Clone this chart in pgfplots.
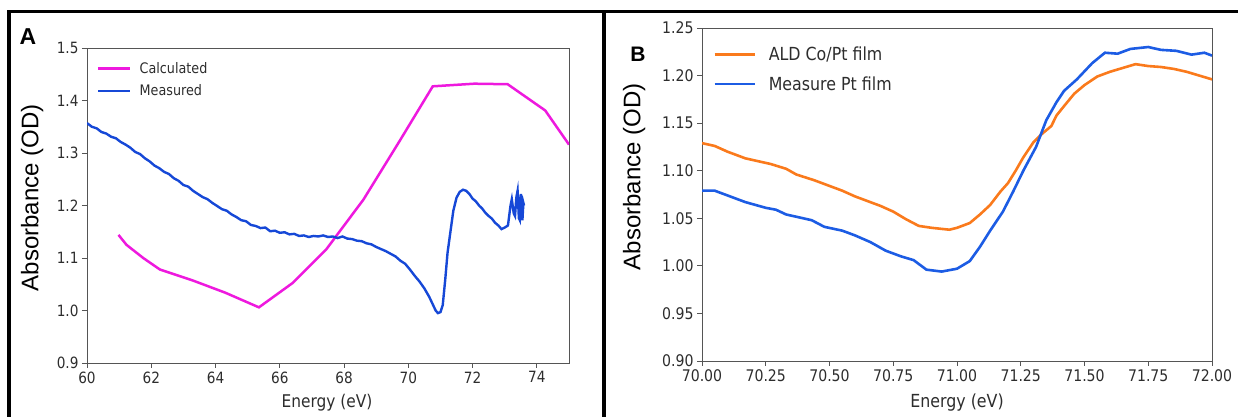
\documentclass[border=0pt]{standalone}
\usepackage{fontspec}
\setmainfont{DejaVu Sans}[FakeStretch=0.88]
\newfontfamily\arialfont{Liberation Sans}
\usepackage{pgfplots}
\pgfplotsset{compat=1.18}
\definecolor{magc}{RGB}{238,25,222}
\definecolor{blueA}{RGB}{22,72,215}
\definecolor{orangeB}{RGB}{250,122,28}
\definecolor{blueB}{RGB}{28,92,228}
\definecolor{spine}{RGB}{85,85,85}
\definecolor{txt}{RGB}{45,45,45}
\pgfplotsset{mpl/.style={
  scale only axis,
  axis line style={spine, line width=0.9pt},
  tick style={spine, line width=0.9pt},
  tick align=outside, major tick length=5pt,
  xtick pos=bottom, ytick pos=left,
  tick label style={text=txt},
  /pgf/number format/assume math mode=true,
  legend cell align=left,
  clip=true,
}}
\begin{document}
\begin{tikzpicture}
\path[use as bounding box] (0,0) rectangle (1238pt,417pt);
% ---------------- Panel A
\begin{axis}[mpl,
  at={(87pt,54pt)}, anchor=origin,
  width=482pt, height=315pt,
  xmin=60, xmax=75, ymin=0.9, ymax=1.5,
  xtick={60,62,...,74},
  ytick={0.9,1.0,...,1.5},
  yticklabel style={/pgf/number format/.cd, fixed, fixed zerofill, precision=1},
  tick label style={font=\fontsize{15.5}{15.5}\selectfont},
  xlabel={Energy (eV)},
  xlabel style={font=\fontsize{17.5}{17.5}\selectfont, text=txt, at={(axis description cs:0.498,-0.127)}, anchor=center},
  ylabel={\arialfont Absorbance (OD)},
  ylabel style={font=\fontsize{24}{24}\selectfont, at={(axis description cs:-0.114,0.524)}, anchor=center},
  legend style={draw=none, fill=none, at={(axis description cs:0,1)}, anchor=north west,
    xshift=7pt, yshift=-12pt, font=\fontsize{14.5}{14.5}\selectfont, row sep=10pt,
    nodes={inner sep=0pt, anchor=west, text=txt}, column sep=0pt},
  legend image code/.code={\draw[#1] (0pt,0pt) -- (32pt,0pt); \path (40pt,0pt);},
]
\addplot[magc, line width=2.5pt] coordinates {
(60.98,1.144) (61.23,1.125) (61.75,1.100) (62.27,1.078) (63.30,1.057) (64.30,1.034) (65.35,1.006)
(66.39,1.052) (67.44,1.116) (68.60,1.211) (69.70,1.320) (70.76,1.427) (72.05,1.432) (73.09,1.431)
(74.26,1.381) (75.00,1.316)};
\addlegendentry{Calculated}
\addplot[blueA, line width=2.4pt] coordinates {
(60.00,1.357) (60.15,1.350) (60.30,1.347) (60.45,1.340) (60.60,1.337) (60.75,1.331) (60.90,1.328)
(61.05,1.321) (61.20,1.316) (61.35,1.310) (61.50,1.302) (61.65,1.298) (61.80,1.290) (61.95,1.284)
(62.10,1.276) (62.25,1.271) (62.40,1.264) (62.55,1.260) (62.70,1.252) (62.85,1.247) (63.00,1.239)
(63.15,1.236) (63.30,1.228) (63.45,1.222) (63.60,1.216) (63.75,1.212) (63.90,1.205) (64.05,1.199)
(64.20,1.193) (64.35,1.190) (64.50,1.183) (64.65,1.178) (64.80,1.172) (64.95,1.170) (65.10,1.163)
(65.25,1.161) (65.40,1.157) (65.55,1.158) (65.70,1.151) (65.85,1.152) (66.00,1.148) (66.15,1.149)
(66.30,1.145) (66.45,1.146) (66.60,1.142) (66.75,1.143) (66.90,1.140) (67.05,1.142) (67.20,1.141)
(67.35,1.143) (67.50,1.140) (67.65,1.141) (67.80,1.138) (67.95,1.141) (68.10,1.137) (68.25,1.136)
(68.40,1.133) (68.55,1.132) (68.70,1.128) (68.85,1.126) (69.00,1.121) (69.15,1.117) (69.30,1.113)
(69.45,1.108) (69.60,1.103) (69.75,1.095) (69.90,1.089) (70.05,1.078) (70.20,1.066) (70.35,1.055)
(70.50,1.042) (70.65,1.026) (70.75,1.013) (70.85,1.000) (70.92,0.995) (71.00,0.997) (71.07,1.010)
(71.15,1.060) (71.22,1.110) (71.31,1.150) (71.40,1.190) (71.50,1.215) (71.60,1.226) (71.70,1.230)
(71.80,1.228) (71.90,1.222) (72.00,1.213) (72.10,1.208) (72.20,1.200) (72.30,1.194) (72.40,1.186)
(72.50,1.180) (72.60,1.175) (72.70,1.167) (72.80,1.162) (72.90,1.155) (73.00,1.158) (73.10,1.162)
(73.18,1.200) (73.22,1.212) (73.28,1.185) (73.32,1.180) (73.36,1.215) (73.40,1.228) (73.44,1.176)
(73.47,1.172) (73.50,1.222) (73.53,1.205) (73.55,1.172) (73.58,1.205) (73.60,1.200)};
\addlegendentry{Measured}
\end{axis}
% ---------------- Panel B
\begin{axis}[mpl,
  at={(702pt,56pt)}, anchor=origin,
  width=510pt, height=333pt,
  xmin=70, xmax=72, ymin=0.9, ymax=1.25,
  xtick={70,70.25,...,72},
  ytick={0.9,0.95,...,1.25},
  xticklabel style={/pgf/number format/.cd, fixed, fixed zerofill, precision=2},
  yticklabel style={/pgf/number format/.cd, fixed, fixed zerofill, precision=2},
  tick label style={font=\fontsize{16}{16}\selectfont},
  xlabel={Energy (eV)},
  xlabel style={font=\fontsize{18}{18}\selectfont, text=txt, at={(axis description cs:0.5,-0.126)}, anchor=center},
  ylabel={\arialfont Absorbance (OD)},
  ylabel style={font=\fontsize{24}{24}\selectfont, at={(axis description cs:-0.133,0.553)}, anchor=center},
  legend style={draw=none, fill=none, at={(axis description cs:0,1)}, anchor=north west,
    xshift=8pt, yshift=-17pt, font=\fontsize{18}{18}\selectfont, row sep=14pt,
    nodes={inner sep=0pt, anchor=west, text=txt}, column sep=0pt},
  legend image code/.code={\draw[#1] (0pt,0pt) -- (40pt,0pt); \path (53pt,0pt);},
]
\addplot[orangeB, line width=2.6pt] coordinates {
(70.00,1.129) (70.05,1.126) (70.10,1.120) (70.17,1.113) (70.22,1.110) (70.27,1.107) (70.33,1.102)
(70.37,1.096) (70.44,1.090) (70.50,1.084) (70.55,1.079) (70.60,1.073) (70.65,1.068) (70.70,1.063)
(70.75,1.057) (70.80,1.049) (70.85,1.042) (70.90,1.040) (70.97,1.038) (71.00,1.040) (71.05,1.045)
(71.09,1.054) (71.13,1.064) (71.17,1.078) (71.20,1.087) (71.23,1.100) (71.26,1.114) (71.30,1.130)
(71.33,1.138) (71.37,1.147) (71.39,1.158) (71.42,1.168) (71.46,1.181) (71.50,1.190) (71.55,1.199)
(71.60,1.204) (71.65,1.208) (71.70,1.212) (71.75,1.210) (71.80,1.209) (71.85,1.207) (71.90,1.204)
(71.95,1.200) (72.00,1.196)};
\addlegendentry{ALD Co/Pt film}
\addplot[blueB, line width=2.6pt] coordinates {
(70.00,1.079) (70.05,1.079) (70.11,1.073) (70.17,1.067) (70.25,1.061) (70.29,1.059) (70.33,1.054)
(70.38,1.051) (70.43,1.048) (70.48,1.041) (70.55,1.037) (70.60,1.032) (70.66,1.025) (70.72,1.016)
(70.78,1.010) (70.83,1.006) (70.88,0.996) (70.94,0.994) (71.00,0.997) (71.05,1.005) (71.09,1.020)
(71.13,1.037) (71.18,1.057) (71.22,1.078) (71.26,1.100) (71.31,1.125) (71.35,1.153) (71.39,1.172)
(71.42,1.184) (71.47,1.196) (71.53,1.213) (71.58,1.224) (71.63,1.223) (71.68,1.228) (71.75,1.230)
(71.80,1.227) (71.86,1.226) (71.92,1.222) (71.97,1.224) (72.00,1.221)};
\addlegendentry{Measure Pt film}
\end{axis}
% ---------------- frames and panel letters
\draw[line width=3.5pt] (9pt,0pt) -- (9pt,405.5pt) -- (1238pt,405.5pt);
\draw[line width=4pt] (603.5pt,0pt) -- (603.5pt,405.5pt);
\node[font=\arialfont\bfseries\fontsize{23}{23}\selectfont] at (28pt,380pt) {A};
\node[font=\arialfont\bfseries\fontsize{21}{21}\selectfont] at (638pt,363pt) {B};
\end{tikzpicture}
\end{document}
